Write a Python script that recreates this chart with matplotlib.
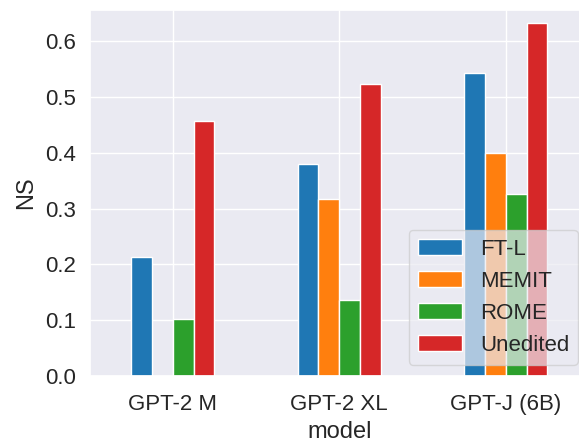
import numpy as np
import matplotlib
matplotlib.use("Agg")
from matplotlib import pyplot as plt
import seaborn as sns

models = ["GPT-2 M", "GPT-2 XL", "GPT-J (6B)"]
methods = ["FT-L", "MEMIT", "ROME", "Unedited"]
ft_l = [0.213, 0.380, 0.543]
memit = [np.nan, 0.318, 0.400]
rome = [0.103, 0.137, 0.326]
unedited = [0.457, 0.523, 0.633]
colors = ["#1f77b4", "#ff7f0e", "#2ca02c", "#d62728"]

sns.set_theme(style="darkgrid")
plt.rcParams['font.family'] = ['Liberation Sans', 'DejaVu Sans']

fig = plt.figure(figsize=(5.79, 4.43), dpi=100)
# axes runs a little past the right edge, like the cropped original
ax = fig.add_axes([89.5 / 579, 1 - 376 / 443, 499.5 / 579, 366 / 443])

width = 0.125
x = np.arange(len(models))
series = [ft_l, memit, rome, unedited]
for i, (name, vals) in enumerate(zip(methods, series)):
	ax.bar(x + (i - 1.5) * width, vals, width, label=name, color=colors[i],
		edgecolor="white", linewidth=1)

ax.set_xticks(x)
ax.set_xticklabels(models, fontsize=16)
ax.tick_params(axis="x", pad=7)
ax.tick_params(axis="y", labelsize=16)
ax.set_xlim(-0.5, 2.5)
ax.set_ylim(0, 0.656)
ax.set_yticks(np.arange(0, 0.61, 0.1))
ax.set_xlabel("model", fontsize=17, labelpad=4)
ax.set_ylabel("NS", fontsize=17, labelpad=6)
ax.legend(loc="lower right", fontsize=16, framealpha=0.7)

fig.savefig("out.png", dpi=100)
